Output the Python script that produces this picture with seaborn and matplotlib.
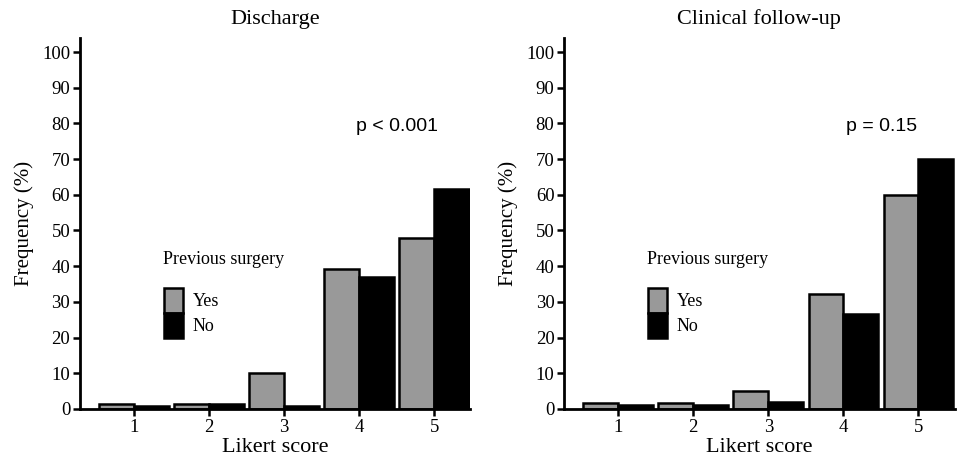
import pandas as pd
import matplotlib
matplotlib.use("Agg")
import matplotlib.pyplot as plt
import seaborn as sns

scores = ["1", "2", "3", "4", "5"]
groups = ["Yes", "No"]
discharge_yes = [1.5, 1.5, 10, 39.3, 48]
discharge_no = [0.8, 1.5, 0.8, 37, 61.6]
followup_yes = [1.6, 1.6, 5, 32.2, 60]
followup_no = [1, 1, 2, 26.6, 70]
titles = ["Discharge", "Clinical follow-up"]
p_values = ["p < 0.001", "p = 0.15"]


def make_frame(yes, no):
    rows = []
    for s, y, n in zip(scores, yes, no):
        rows.append({"score": s, "group": "Yes", "freq": y})
        rows.append({"score": s, "group": "No", "freq": n})
    return pd.DataFrame(rows)


def draw_panel(ax, df, title, ptext):
    sns.barplot(data=df, x="score", y="freq", hue="group", hue_order=groups,
                palette=["#999999", "#000000"], edgecolor="black", linewidth=1.8,
                width=0.93, gap=0, saturation=1, errorbar=None, ax=ax)
    ax.set_xlim(-0.72, 4.48)
    ax.set_ylim(0, 104)
    ax.set_yticks(range(0, 101, 10))
    ax.set_title(title, fontsize=16, pad=10)
    ax.set_xlabel("Likert score", fontsize=16, labelpad=2)
    ax.set_ylabel("Frequency (%)", fontsize=15, labelpad=6)
    ax.tick_params(labelsize=13.5, width=1.8, length=5, direction="out",
                   bottom=True, left=True, colors="black", pad=2)
    for side in ["top", "right"]:
        ax.spines[side].set_visible(False)
    for side in ["left", "bottom"]:
        ax.spines[side].set_linewidth(2)
        ax.spines[side].set_color("black")
    ax.text(0.813, 0.76, ptext, transform=ax.transAxes, ha="center", va="center",
            fontsize=14, family="Liberation Sans")
    # legend title drawn separately to keep the gap above the boxes
    ax.text(0.213, 0.402, "Previous surgery", transform=ax.transAxes,
            ha="left", va="center", fontsize=13)
    leg = ax.legend(loc="upper left", bbox_to_anchor=(0.215, 0.326),
                    frameon=False, fontsize=13, handlelength=1.05,
                    handleheight=1.75, labelspacing=0.0, handletextpad=0.55,
                    borderpad=0, borderaxespad=0)
    for h in leg.legend_handles:
        h.set_linewidth(1.8)


def main():
    sns.set_theme(style="white")
    plt.rcParams["font.family"] = ["Liberation Serif", "DejaVu Serif"]
    plt.rcParams["text.color"] = "black"
    plt.rcParams["axes.labelcolor"] = "black"
    fig, axes = plt.subplots(1, 2, figsize=(9.76, 4.61), dpi=100)
    fig.subplots_adjust(left=0.082, right=0.978, bottom=0.113, top=0.918, wspace=0.24)
    draw_panel(axes[0], make_frame(discharge_yes, discharge_no), titles[0], p_values[0])
    draw_panel(axes[1], make_frame(followup_yes, followup_no), titles[1], p_values[1])
    fig.savefig("out.png", dpi=100)
    plt.close(fig)


if __name__ == "__main__":
    main()
